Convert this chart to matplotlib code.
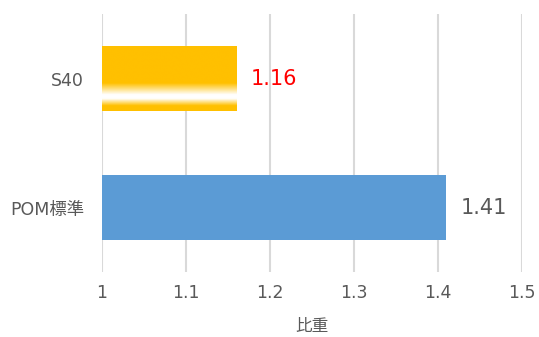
import numpy as np
import matplotlib.pyplot as plt
from matplotlib.colors import LinearSegmentedColormap

plt.rcParams['font.family'] = ['DejaVu Sans', 'Noto Sans CJK JP']

# データ
categories = ['POM標準', 'S40']
values = [1.41, 1.16]
label_colors = ['#595959', '#FF0000']
xticks = [1, 1.1, 1.2, 1.3, 1.4, 1.5]
xlabel = '比重'

fig = plt.figure(figsize=(5.39, 3.37), dpi=100)
ax = fig.add_axes([0.1892, 0.193, 0.7793, 0.765])

y = np.arange(len(categories))
bar_h = 0.5
bars = ax.barh(y, [v - 1 for v in values], left=1, height=bar_h,
               color=['#5B9BD5', '#FFC000'], zorder=2)

# S40 のグラデーション（黄→白→黄）
grad = LinearSegmentedColormap.from_list(
    'g', [(0, '#FFC000'), (0.57, '#FFC000'), (0.75, '#FFFFFF'),
          (0.81, '#FFFFFF'), (0.92, '#FFC000'), (1, '#FFC000')])
ax.imshow(np.linspace(0, 1, 200).reshape(-1, 1), cmap=grad, aspect='auto',
          extent=[1, values[1], y[1] - bar_h / 2, y[1] + bar_h / 2],
          origin='upper', zorder=3, interpolation='bilinear')

for yi, v, c in zip(y, values, label_colors):
    ax.text(v + 0.017, yi, f'{v:.2f}', color=c, fontsize=15,
            va='center', ha='left')

ax.set_xlim(1, 1.5)
ax.set_ylim(-0.5, 1.5)
ax.set_xticks(xticks)
ax.set_xticklabels([f'{t:g}' for t in xticks])
ax.set_yticks(y)
ax.set_yticklabels(categories)
ax.tick_params(length=0, labelsize=12.5, labelcolor='#595959', pad=13)
ax.tick_params(axis='x', pad=9)
ax.grid(axis='x', color='#D9D9D9', linewidth=1.5, zorder=0)
for s in ax.spines.values():
    s.set_visible(False)
ax.set_xlabel(xlabel, fontsize=12, color='#595959', labelpad=11,
              family=['Noto Sans CJK JP'])

fig.savefig('out.png', dpi=100)
